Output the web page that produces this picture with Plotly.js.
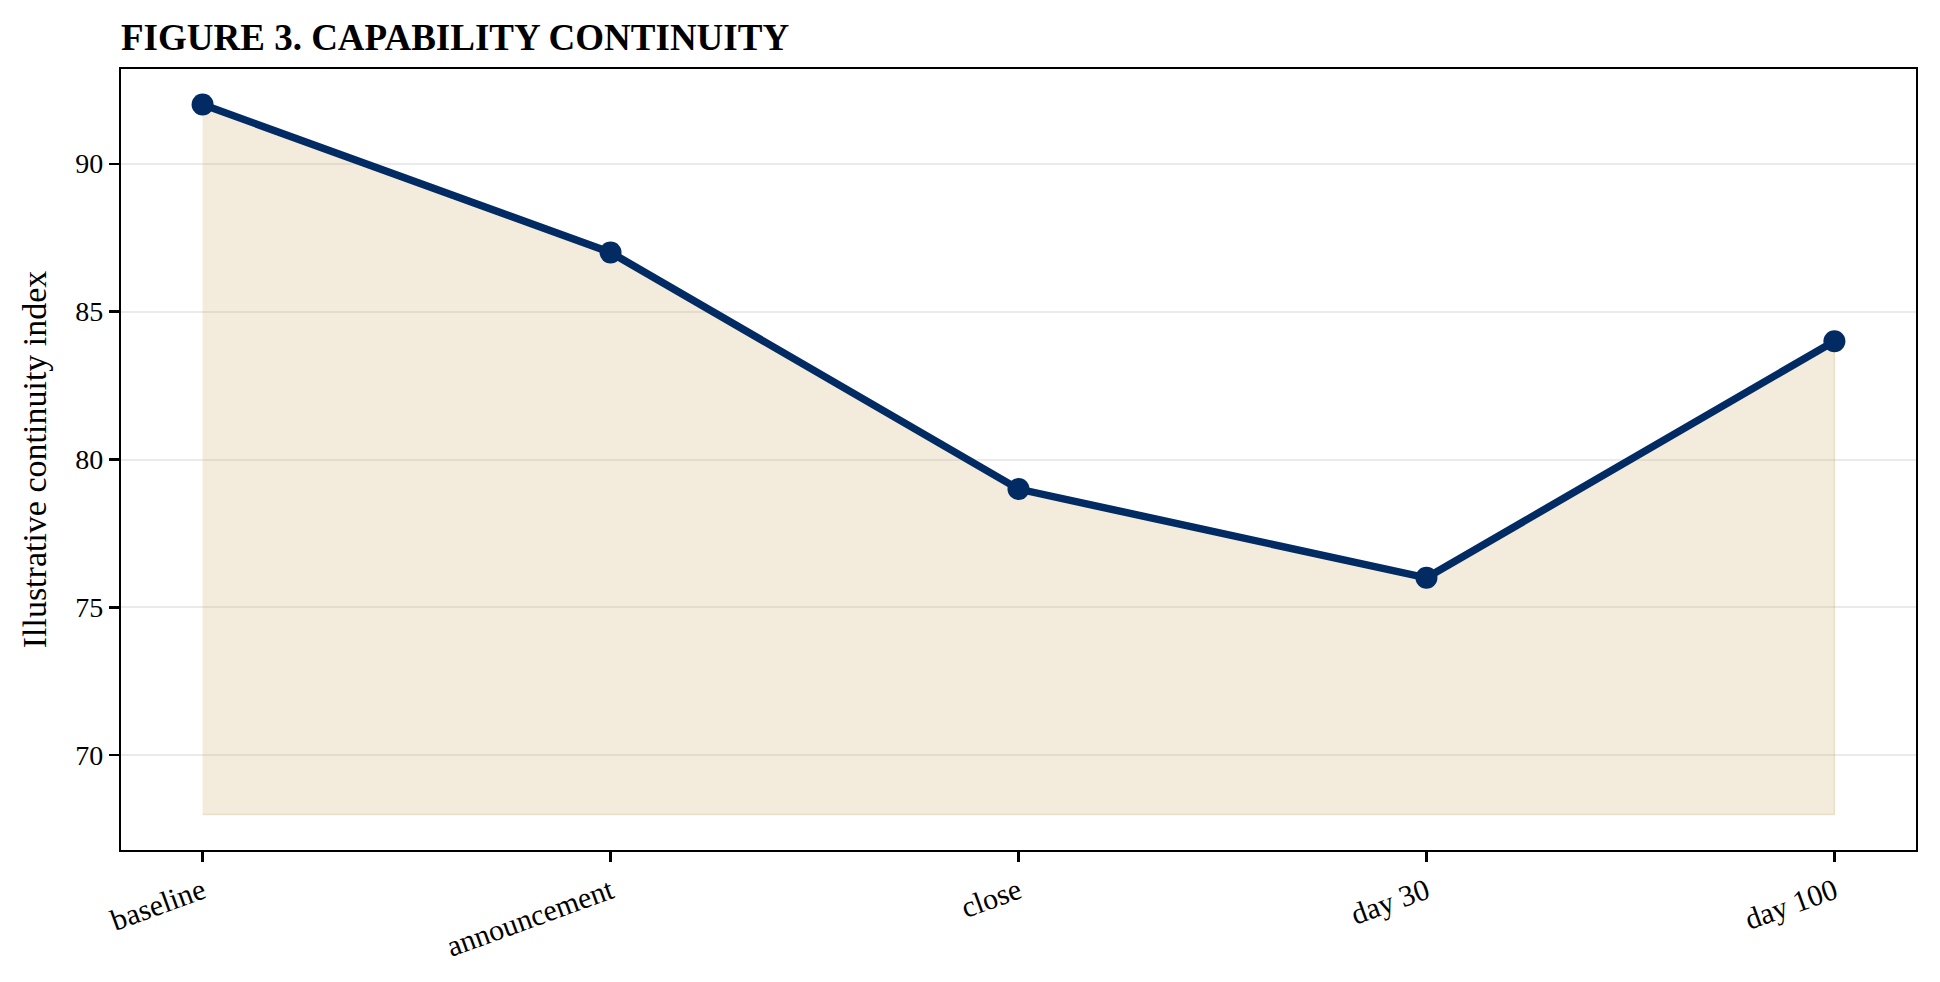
<!DOCTYPE html>
<html>
<head>
<meta charset="utf-8">
<script src="https://cdn.plot.ly/plotly-3.0.1.min.js"></script>
<style>
  html, body { margin: 0; padding: 0; background: #fff; }
  #chart { width: 1940px; height: 982px; }
</style>
</head>
<body>
<div id="chart"></div>
<script>
// chart data
const stages = ["baseline", "announcement", "close", "day 30", "day 100"];
const continuity = [92, 87, 79, 76, 84];
const fillFloor = 68;   // shaded area goes down to this level
const yTicks = [70, 75, 80, 85, 90];

const navy = "#022b63";
const serif = "Liberation Serif, Times New Roman, serif";

// shaded band under the line, closed back along the floor
const bandX = stages.concat(stages.slice().reverse());
const bandY = continuity.concat(stages.map(() => fillFloor));

const band = {
    x: bandX,
    y: bandY,
    type: 'scatter',
    mode: 'lines',
    fill: 'toself',
    fillcolor: 'rgba(207,177,118,0.26)',
    line: {color: 'rgba(207,177,118,0.32)', width: 1.5},
    hoverinfo: 'skip',
    showlegend: false
};

const line = {
    x: stages,
    y: continuity,
    type: 'scatter',
    mode: 'lines+markers',
    line: {color: navy, width: 7.5},
    marker: {color: navy, size: 22},
    showlegend: false
};

const layout = {
    width: 1940,
    height: 982,
    margin: {l: 121, r: 24, t: 69, b: 132},
    paper_bgcolor: '#fff',
    plot_bgcolor: '#fff',
    font: {family: serif, color: '#000', size: 28},
    title: {
        text: '<b>FIGURE 3. CAPABILITY CONTINUITY</b>',
        font: {family: serif, size: 37, color: '#000'},
        x: 121 / 1940,
        xref: 'container',
        xanchor: 'left',
        y: 1 - 37 / 982,
        yref: 'container',
        yanchor: 'middle'
    },
    xaxis: {
        type: 'category',
        range: [-0.2, 4.2],
        tickangle: -20,
        ticks: 'outside',
        ticklen: 10,
        tickwidth: 2.2,
        tickcolor: '#000',
        showline: true,
        linecolor: '#000',
        linewidth: 2.2,
        mirror: true,
        showgrid: false,
        zeroline: false,
        tickfont: {family: serif, size: 30}
    },
    yaxis: {
        range: [66.8, 93.2],
        tickvals: yTicks,
        ticks: 'outside',
        ticklen: 10,
        tickwidth: 2.2,
        tickcolor: '#000',
        showline: true,
        linecolor: '#000',
        linewidth: 2.2,
        mirror: true,
        showgrid: true,
        gridcolor: '#eaeaea',
        gridwidth: 2,
        zeroline: false,
        tickfont: {family: serif, size: 28},
        title: {
            text: 'Illustrative continuity index',
            font: {family: serif, size: 34},
            standoff: 18
        }
    }
};

Plotly.newPlot('chart', [band, line], layout, {displayModeBar: false, staticPlot: true});
</script>
</body>
</html>
